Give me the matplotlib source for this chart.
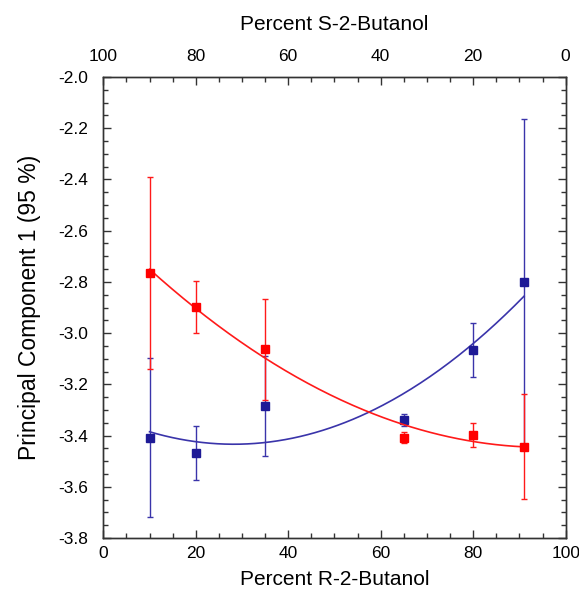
import numpy as np
import matplotlib
matplotlib.use('Agg')
import matplotlib.pyplot as plt
from matplotlib.ticker import MultipleLocator, FormatStrFormatter

plt.rcParams['font.family'] = ['Liberation Sans', 'DejaVu Sans']
plt.rcParams['axes.unicode_minus'] = False

# Percent R-2-Butanol
pctR = [10, 20, 35, 65, 80, 91]

# Principal component 1 scores and error bars
redY = [-2.767, -2.898, -3.063, -3.408, -3.398, -3.443]
redErr = [0.375, 0.103, 0.198, 0.022, 0.048, 0.204]
blueY = [-3.408, -3.468, -3.285, -3.339, -3.066, -2.802]
blueErr = [0.31, 0.107, 0.195, 0.024, 0.106, 0.636]

redMark = '#ff0000'
redLine = '#ff1a1a'
blueMark = '#1e1a96'
blueLine = '#3a34aa'


fig = plt.figure(figsize=(5.79, 6.0), dpi=100)
ax = fig.add_axes([0.1784, 0.1033, 0.7986, 0.7684])

xs = np.linspace(min(pctR), max(pctR), 200)
blueFit = np.polyfit(pctR, blueY, 2)
redFit = np.polyfit(pctR, redY, 2)

ax.plot(xs, np.polyval(blueFit, xs), color=blueLine, lw=1.2, zorder=2)
ax.errorbar(pctR, blueY, yerr=blueErr, fmt='s', color=blueMark, ecolor=blueLine,
            ms=5.5, elinewidth=1.0, capsize=2.5, capthick=1.0, zorder=3)
ax.plot(xs, np.polyval(redFit, xs), color=redLine, lw=1.2, zorder=4)
ax.errorbar(pctR, redY, yerr=redErr, fmt='s', color=redMark, ecolor=redLine,
            ms=5.5, elinewidth=1.0, capsize=2.5, capthick=1.0, zorder=5)

ax.set_xlim(0, 100)
ax.set_ylim(-3.8, -2.0)
ax.xaxis.set_major_locator(MultipleLocator(20))
ax.xaxis.set_minor_locator(MultipleLocator(5))
ax.yaxis.set_major_locator(MultipleLocator(0.2))
ax.yaxis.set_minor_locator(MultipleLocator(0.05))
ax.yaxis.set_major_formatter(FormatStrFormatter('%.1f'))
ax.tick_params(which='both', direction='in', right=True, labelsize=12.5, color='#333333')
ax.tick_params(which='major', length=6, width=1)
ax.tick_params(which='minor', length=3.5, width=1)
ax.tick_params(axis='x', which='both', top=False, pad=6)
ax.tick_params(axis='y', which='both', pad=11)
for s in ax.spines.values():
    s.set_linewidth(1.0)
    s.set_color('#333333')

ax.set_xlabel('Percent R-2-Butanol', fontsize=15, labelpad=6)
ax.set_ylabel('Principal Component 1 (95 %)', fontsize=16.5, labelpad=12)

# top axis: percent S = 100 - percent R
top = ax.twiny()
top.set_xlim(100, 0)
top.set_xticks([100, 80, 60, 40, 20, 0])
top.xaxis.set_minor_locator(MultipleLocator(5))
top.tick_params(which='both', direction='in', labelsize=12.5, color='#333333', pad=9)
top.tick_params(which='major', length=6, width=1)
top.tick_params(which='minor', length=3.5, width=1)
top.set_xlabel('Percent S-2-Butanol', fontsize=15, labelpad=14)
for s in top.spines.values():
    s.set_linewidth(1.0)
    s.set_color('#333333')

fig.savefig('out.png', dpi=100)
